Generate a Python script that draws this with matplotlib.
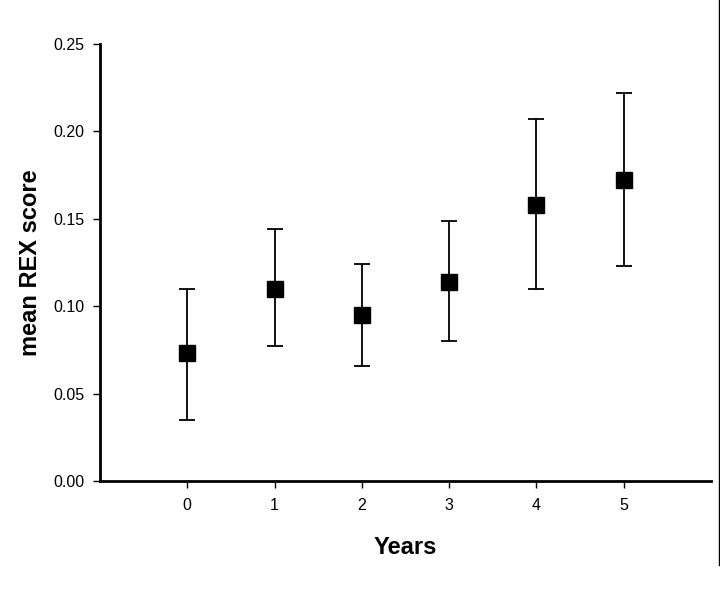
import matplotlib
matplotlib.use("Agg")
import matplotlib.pyplot as plt
from matplotlib.lines import Line2D

years = [0, 1, 2, 3, 4, 5]
mean_rex = [0.073, 0.110, 0.095, 0.114, 0.158, 0.172]
lower = [0.035, 0.077, 0.066, 0.080, 0.110, 0.123]
upper = [0.110, 0.144, 0.124, 0.149, 0.207, 0.222]

plt.rcParams['font.family'] = ['Liberation Sans', 'DejaVu Sans']

fig = plt.figure(figsize=(7.2, 6.0), dpi=100)
ax = fig.add_axes([100/720, 1-481/600, (711-100)/720, (481-44)/600])

yerr = [[m - l for m, l in zip(mean_rex, lower)], [u - m for m, u in zip(mean_rex, upper)]]
ax.errorbar(years, mean_rex, yerr=yerr, fmt='s', color='black', ecolor='black',
            markersize=11, elinewidth=1.3, capsize=6, capthick=1.3)

ax.set_xlim(-1, 6)
ax.set_ylim(0, 0.25)
ax.set_xticks(years)
ax.set_xticklabels([str(y) for y in years])
ax.set_yticks([0.0, 0.05, 0.10, 0.15, 0.20, 0.25])
ax.set_yticklabels(['0.00', '0.05', '0.10', '0.15', '0.20', '0.25'])
ax.spines['top'].set_visible(False)
ax.spines['right'].set_visible(False)
ax.spines['left'].set_linewidth(2)
ax.spines['bottom'].set_linewidth(2)
ax.tick_params(direction='out', length=5, width=1, labelsize=11.5, pad=6)
ax.tick_params(axis='x', pad=7)
ax.set_xlabel('Years', fontsize=17, fontweight='bold', labelpad=17)
ax.set_ylabel('mean REX score', fontsize=17, fontweight='bold', labelpad=8)

fig.add_artist(Line2D([719/720, 719/720], [1-565/600, 1], color='black', lw=1))

fig.savefig('out.png', dpi=100)
